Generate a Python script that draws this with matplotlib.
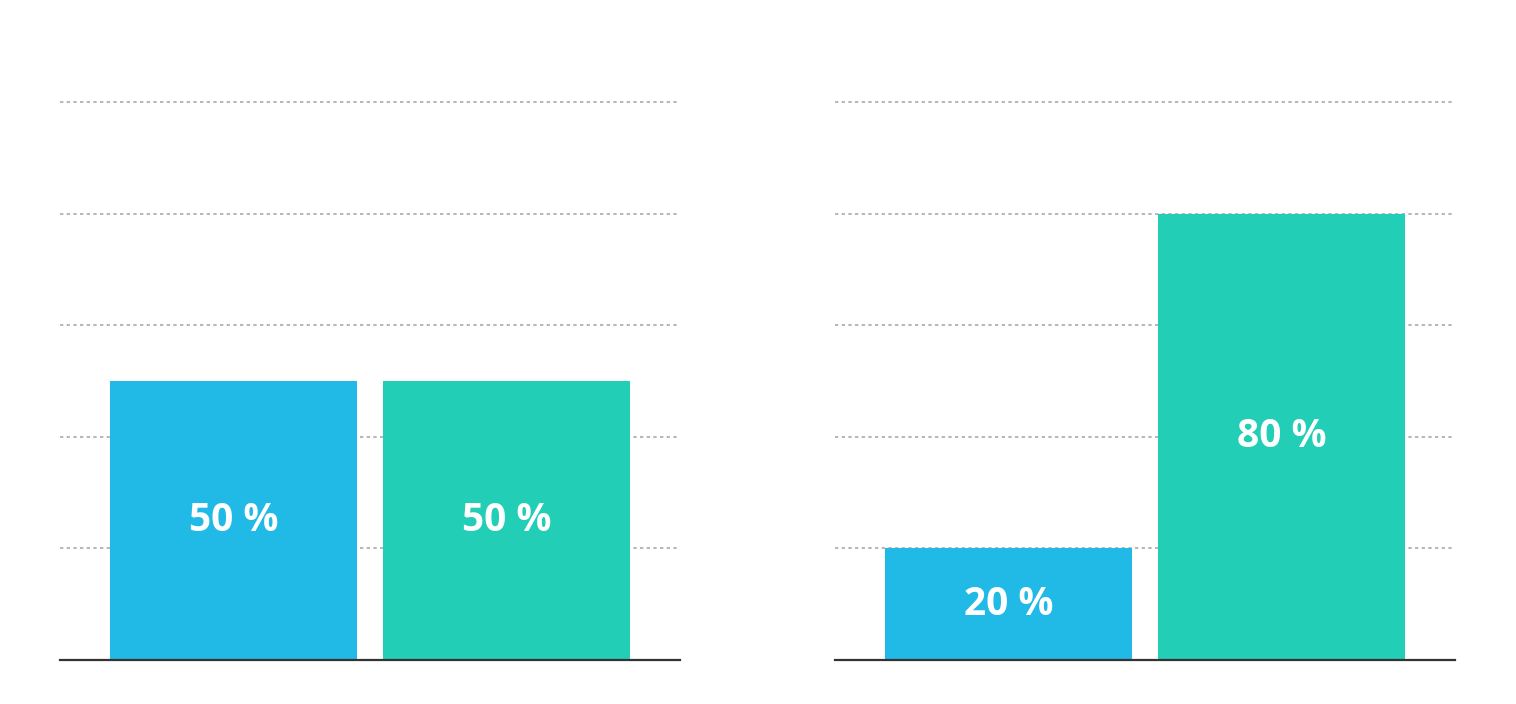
import matplotlib
matplotlib.use('Agg')
import matplotlib.pyplot as plt

# Two panels, two bars each (percent)
categories = ['A', 'B']
left_values = [50, 50]
right_values = [20, 80]
bar_colors = ['#21BAE6', '#22CEB6']
grid_levels = [20, 40, 60, 80, 100]

W, H = 1516, 704
fig = plt.figure(figsize=(W / 100, H / 100), dpi=100)


def draw_panel(x0, values):
    ax = fig.add_axes([x0 / W, (H - 660) / H, 620 / W, 558 / H])
    unit = 273.0
    lo = -(173.5 / unit)
    hi = (620 - 173.5) / unit
    ax.set_xlim(lo, hi)
    ax.set_ylim(0, 100)
    ax.hlines(grid_levels, lo, (617 - 173.5) / unit, colors='#aaaaaa',
              linestyles=(0, (2, 2)), linewidth=1.2, zorder=0, clip_on=False)
    xs = range(len(values))
    ax.bar(xs, values, width=247 / unit, color=bar_colors, zorder=2)
    for x, v in zip(xs, values):
        ax.text(x, v / 2, f'{v} %', ha='center', va='center', color='white',
                fontsize=28, fontweight='bold', family=['Open Sans', 'DejaVu Sans'], zorder=3)
    for side in ['top', 'right', 'left']:
        ax.spines[side].set_visible(False)
    ax.spines['bottom'].set_color('#333333')
    ax.spines['bottom'].set_linewidth(1.6)
    ax.spines['bottom'].set_zorder(4)
    ax.set_xticks([])
    ax.set_yticks([])
    ax.patch.set_alpha(0)
    return ax


draw_panel(60, left_values)
draw_panel(835, right_values)

fig.savefig('out.png', dpi=100)
